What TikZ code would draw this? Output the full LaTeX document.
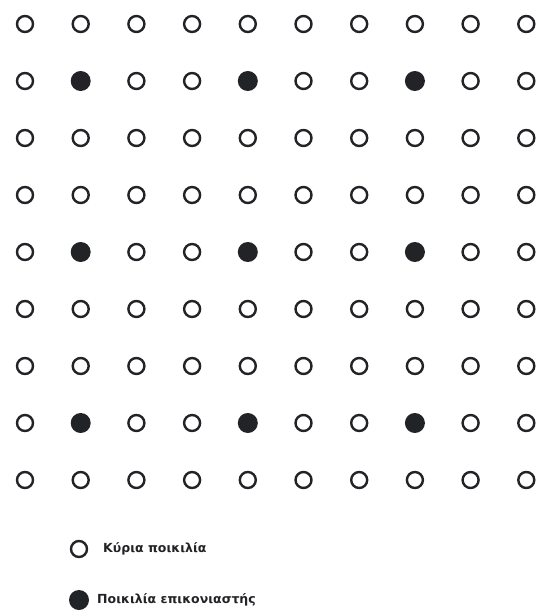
\documentclass[tikz,border=0pt]{standalone}
\usepackage{fontspec}
\setmainfont{DejaVu Sans}
\definecolor{ink}{HTML}{222326}
\begin{document}
\begin{tikzpicture}[x=1pt,y=-1pt,
  mainvar/.style={circle,draw=ink,line width=2.4pt,fill=white,minimum size=16pt,inner sep=0pt},
  pollvar/.style={circle,fill=ink,minimum size=20pt,inner sep=0pt},
  legtext/.style={anchor=west,text=ink,font=\fontsize{12.5}{14}\selectfont\bfseries,inner sep=0pt}]
\useasboundingbox[fill=white] (0,0) rectangle (541,613);
\foreach \r in {1,...,9}{
  \foreach \c in {1,...,10}{
    \pgfmathtruncatemacro{\isf}{(mod(\r,3)==2 && mod(\c,3)==2) ? 1 : 0}
    \pgfmathsetmacro{\px}{25+(\c-1)*55.7}
    \pgfmathsetmacro{\py}{24+(\r-1)*57}
    \ifnum\isf=1
      \node[pollvar] (p-\r-\c) at (\px,\py) {};
    \else
      \node[mainvar] (p-\r-\c) at (\px,\py) {};
    \fi
  }
}
\node[mainvar] (legmain) at (79,549) {};
\node[legtext] (legmaintext) at (103,549) {Κύρια ποικιλία};
\node[pollvar] (legpoll) at (79,600) {};
\node[legtext] (legpolltext) at (97,600) {Ποικιλία επικονιαστής};
\end{tikzpicture}
\end{document}
